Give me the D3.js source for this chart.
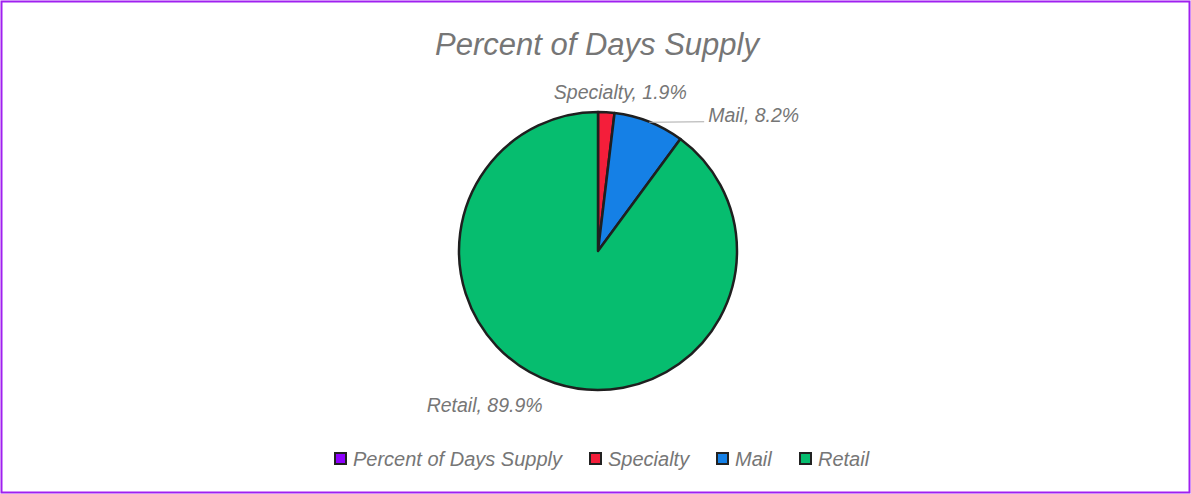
<!DOCTYPE html>
<html>
<head>
<meta charset="utf-8">
<script src="https://cdn.jsdelivr.net/npm/d3@7"></script>
<style>
  html, body { margin: 0; padding: 0; background: #fff; }
  svg text { font-family: 'Liberation Sans', Arial, sans-serif; font-style: italic; fill: #767676; }
</style>
</head>
<body>
<div id="chart"></div>
<script>
// Data
const categories = ['Specialty', 'Mail', 'Retail'];
const values = [1.9, 8.2, 89.9];
const legendLabels = ['Percent of Days Supply', 'Specialty', 'Mail', 'Retail'];
const legendColors = ['#8f00ff', '#f41e3a', '#1580e6', '#06bd6f'];
const sliceColors = ['#f41e3a', '#1580e6', '#06bd6f'];

const width = 1191;
const height = 494;
const cx = 598;
const cy = 251;
const radius = 139;

const svg = d3
  .select('#chart')
  .append('svg')
  .attr('width', width)
  .attr('height', height);

// Outer frame
svg
  .append('rect')
  .attr('x', 1.5)
  .attr('y', 1.5)
  .attr('width', width - 3)
  .attr('height', height - 3)
  .attr('fill', 'none')
  .attr('stroke', '#a020f0')
  .attr('stroke-width', 2);

// Title
svg
  .append('text')
  .attr('x', cx - 1)
  .attr('y', 55)
  .attr('text-anchor', 'middle')
  .style('font-size', '31px')
  .text('Percent of Days Supply');

const pie = d3.pie().sort(null).value((d) => d.value);
const arc = d3.arc().innerRadius(0).outerRadius(radius);

const data = categories.map((c, i) => ({ name: c, value: values[i], color: sliceColors[i] }));
const arcs = pie(data);

const g = svg.append('g').attr('transform', `translate(${cx},${cy})`);

g.selectAll('.slice')
  .data(arcs)
  .enter()
  .append('path')
  .attr('class', 'slice')
  .attr('d', arc)
  .attr('fill', (d) => d.data.color)
  .attr('stroke', '#1f1f1f')
  .attr('stroke-width', 2.5)
  .attr('stroke-linejoin', 'round');

// Labels: offsets from the slice's edge point (dy is to the baseline)
const labelOffsets = {
  Specialty: { dx: 14, dy: -13, anchor: 'middle', line: false },
  Mail: { dx: 59, dy: 0, anchor: 'start', line: true },
  Retail: { dx: -70, dy: 29, anchor: 'middle', line: false },
};

arcs.forEach((d) => {
  const mid = (d.startAngle + d.endAngle) / 2;
  const px = radius * Math.sin(mid);
  const py = -radius * Math.cos(mid);
  const o = labelOffsets[d.data.name];
  if (o.line) {
    g.append('line')
      .attr('x1', px)
      .attr('y1', py + 0.5)
      .attr('x2', px + o.dx - 4)
      .attr('y2', py)
      .attr('stroke', '#aaaaaa')
      .attr('stroke-width', 1.2);
  }
  g.append('text')
    .attr('x', px + o.dx)
    .attr('y', py + o.dy)
    .attr('text-anchor', o.anchor)
    .style('font-size', '19.5px')
    .text(`${d.data.name}, ${d.data.value}%`);
});

// Legend
const legendX = [334, 589, 716, 799];
const legend = svg.append('g').attr('class', 'legend');
legendLabels.forEach((label, i) => {
  legend
    .append('rect')
    .attr('x', legendX[i] + 1)
    .attr('y', 453)
    .attr('width', 11)
    .attr('height', 11)
    .attr('fill', legendColors[i])
    .attr('stroke', '#222')
    .attr('stroke-width', 2);
  legend
    .append('text')
    .attr('x', legendX[i] + 19)
    .attr('y', 466)
    .style('font-size', '20px')
    .text(label);
});
</script>
</body>
</html>
